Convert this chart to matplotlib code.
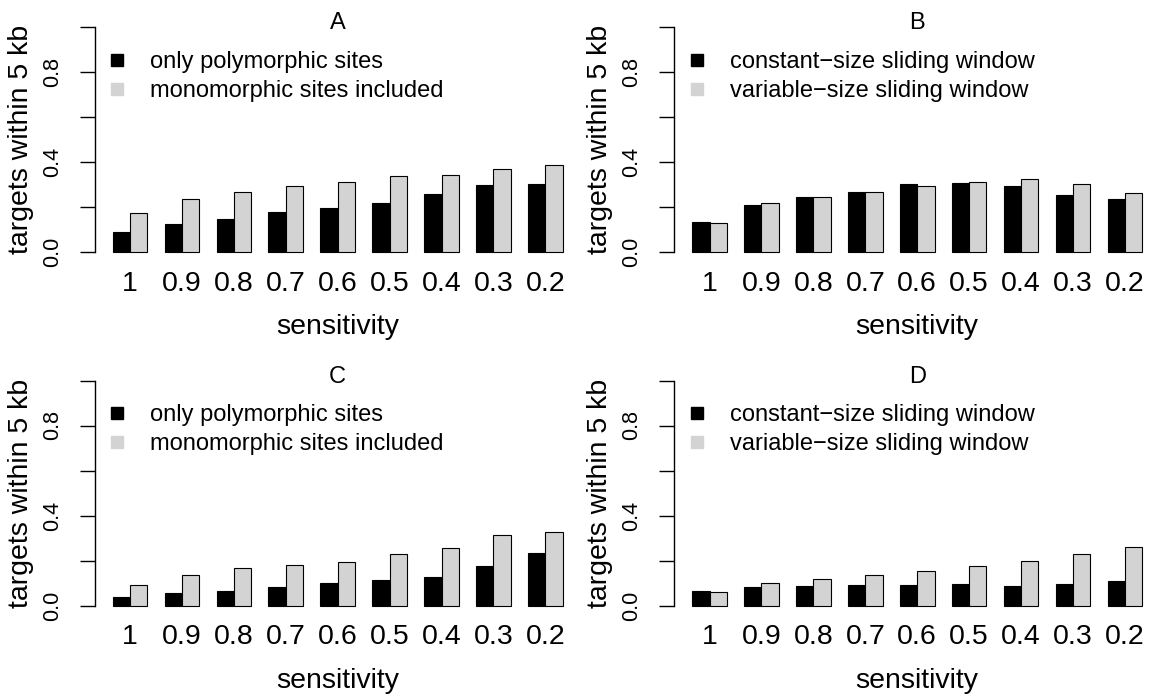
import matplotlib
matplotlib.use("Agg")
import matplotlib.pyplot as plt
import numpy as np
from matplotlib.lines import Line2D

plt.rcParams["font.family"] = ["Liberation Sans", "DejaVu Sans"]

sensitivity = ["1", "0.9", "0.8", "0.7", "0.6", "0.5", "0.4", "0.3", "0.2"]

labels_ac = ["only polymorphic sites", "monomorphic sites included"]
labels_bd = ["constant\u2212size sliding window", "variable\u2212size sliding window"]

a_poly = [0.090, 0.124, 0.150, 0.179, 0.197, 0.220, 0.259, 0.298, 0.305]
a_mono = [0.176, 0.239, 0.266, 0.296, 0.313, 0.339, 0.342, 0.372, 0.389]

b_const = [0.135, 0.212, 0.245, 0.269, 0.302, 0.308, 0.296, 0.256, 0.235]
b_var = [0.130, 0.217, 0.245, 0.268, 0.295, 0.313, 0.324, 0.302, 0.263]

c_poly = [0.039, 0.057, 0.066, 0.083, 0.098, 0.114, 0.128, 0.177, 0.233]
c_mono = [0.092, 0.134, 0.167, 0.180, 0.195, 0.227, 0.255, 0.312, 0.327]

d_const = [0.065, 0.083, 0.087, 0.092, 0.092, 0.095, 0.086, 0.096, 0.107]
d_var = [0.060, 0.101, 0.119, 0.137, 0.155, 0.174, 0.200, 0.228, 0.258]

panels = [
    ("A", a_poly, a_mono, labels_ac),
    ("B", b_const, b_var, labels_bd),
    ("C", c_poly, c_mono, labels_ac),
    ("D", d_const, d_var, labels_bd),
]

W, H = 1159, 694
fig = plt.figure(figsize=(W / 100, H / 100), dpi=100)

# plot regions in pixels: left, top, width, height
rects = [(94.8, 18.3, 485.8, 243), (674.3, 18.3, 485.8, 243),
         (94.8, 371.5, 485.8, 243), (674.3, 371.5, 485.8, 243)]

LIGHT = "#d3d3d3"

for (title, s1, s2, labs), (lx, ty, w, h) in zip(panels, rects):
    ax = fig.add_axes([lx / W, (H - ty - h) / H, w / W, h / H])
    n = len(sensitivity)
    # like R barplot(beside=TRUE): pairs of bars, one bar-width gap
    left1 = 1 + 3 * np.arange(n)
    ax.bar(left1, s1, width=1, align="edge", color="black",
           edgecolor="black", linewidth=0.8)
    ax.bar(left1 + 1, s2, width=1, align="edge", color=LIGHT,
           edgecolor="black", linewidth=0.8)
    ax.set_xlim(-0.04, 28.04)
    ax.set_ylim(-0.04, 1.04)

    for sp in ("top", "right", "bottom"):
        ax.spines[sp].set_visible(False)
    ax.spines["left"].set_bounds(0, 1)
    ax.spines["left"].set_linewidth(1.0)

    ax.set_yticks([0, 0.2, 0.4, 0.6, 0.8, 1.0])
    ax.set_yticklabels(["0.0", "", "0.4", "", "0.8", ""],
                       rotation=90, va="center", fontsize=15.5)
    ax.tick_params(axis="y", length=11, width=1.0, pad=12)

    ax.set_xticks(left1 + 1)
    ax.set_xticklabels(sensitivity, fontsize=20.5)
    ax.tick_params(axis="x", length=0, pad=7)

    ax.set_xlabel("sensitivity", fontsize=20.5, va="center")
    ax.xaxis.set_label_coords(0.5, -0.272)
    ax.set_ylabel("targets within 5 kb", fontsize=20.5, va="center")
    ax.yaxis.set_label_coords(-0.152, 0.5)

    ax.text(0.5, 0.954, title, transform=ax.transAxes, ha="center",
            va="baseline", fontsize=17)

    handles = [Line2D([], [], marker="s", linestyle="none", markersize=8,
                      markerfacecolor="black", markeredgecolor="black"),
               Line2D([], [], marker="s", linestyle="none", markersize=8,
                      markerfacecolor=LIGHT, markeredgecolor=LIGHT)]
    ax.legend(handles, labs, loc="upper left", bbox_to_anchor=(0.0214, 0.866),
              frameon=False, fontsize=17, handlelength=1.0,
              handletextpad=0.9, labelspacing=0.3, borderpad=0,
              borderaxespad=0)

fig.savefig("out.png", dpi=100, facecolor="white")
